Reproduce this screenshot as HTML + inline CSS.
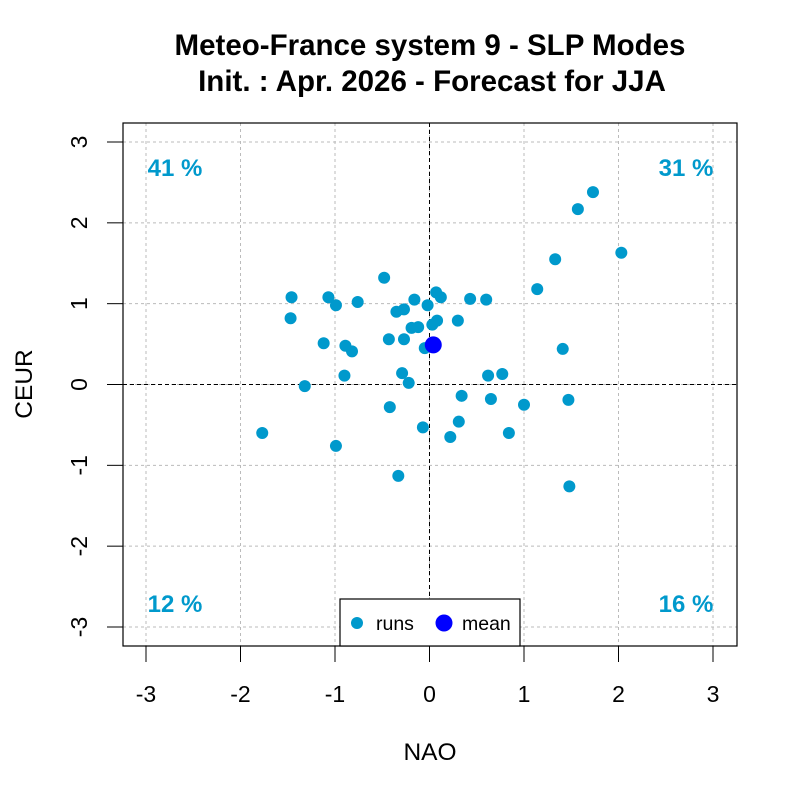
<!DOCTYPE html>
<html><head><meta charset="utf-8"><style>
html,body{margin:0;padding:0;background:#fff;}
svg{display:block;font-family:"Liberation Sans",sans-serif;}
</style></head><body>
<svg id="c" width="800" height="800" xmlns="http://www.w3.org/2000/svg">
<text x="430" y="55" text-anchor="middle" font-size="29.5" font-weight="bold">Meteo-France system 9 - SLP Modes</text>
<text x="432" y="91" text-anchor="middle" font-size="29.5" font-weight="bold">Init. : Apr. 2026 - Forecast for JJA</text>
<text x="430" y="760" text-anchor="middle" font-size="24.5">NAO</text>
<text transform="translate(32,384) rotate(-90)" text-anchor="middle" font-size="24.5">CEUR</text>
<g id="g"></g>
</svg>
<script>
const runsX=[1.73,1.57,2.03,1.33,1.14,1.41,-0.48,-1.46,-1.07,-0.99,-0.76,-1.47,-1.12,-0.89,-0.82,-0.90,-1.32,-1.77,-0.99,-0.33,-0.42,-0.29,-0.22,-0.43,-0.27,-0.35,-0.27,-0.16,-0.02,0.07,0.12,-0.19,-0.12,0.03,0.08,-0.05,0.43,0.60,0.30,0.34,0.31,-0.07,0.22,0.65,0.62,0.77,0.84,1.00,1.47,1.48];
const runsY=[2.38,2.17,1.63,1.55,1.18,0.44,1.32,1.08,1.08,0.98,1.02,0.82,0.51,0.48,0.41,0.11,-0.02,-0.60,-0.76,-1.13,-0.28,0.14,0.02,0.56,0.56,0.90,0.93,1.05,0.98,1.14,1.08,0.70,0.71,0.74,0.79,0.45,1.06,1.05,0.79,-0.14,-0.46,-0.53,-0.65,-0.18,0.11,0.13,-0.60,-0.25,-0.19,-1.26];
const meanX=[0.04];
const meanY=[0.49];
const ticks=[-3,-2,-1,0,1,2,3];
const quadLabels=["41 %","31 %","12 %","16 %"];
const sx=v=>429.5+v*94.5;
const sy=v=>384.5-v*80.83;
const g=document.getElementById('g');
const NS="http://www.w3.org/2000/svg";
function mk(t,a){const e=document.createElementNS(NS,t);for(const k in a)e.setAttribute(k,a[k]);g.appendChild(e);return e;}
ticks.forEach(t=>{
 let l=mk('line',{x1:sx(t),x2:sx(t),y1:123,y2:646,stroke:'#bbb','stroke-dasharray':'3,3'});
 
 l=mk('line',{x1:123,x2:737,y1:sy(t),y2:sy(t),stroke:'#bbb','stroke-dasharray':'3,3'});
 
 l=mk('line',{x1:sx(t),x2:sx(t),y1:646,y2:662,stroke:'#000'});
 
 let tx=mk('text',{x:sx(t),y:702,'text-anchor':'middle','font-size':23});tx.textContent=t;
 
 l=mk('line',{x1:107,x2:123,y1:sy(t),y2:sy(t),stroke:'#000'});
 
 tx=mk('text',{transform:`translate(87,${sy(t)}) rotate(-90)`,'text-anchor':'middle','font-size':23});tx.textContent=t;
 
});
let z=mk('line',{x1:sx(0),x2:sx(0),y1:123,y2:646,stroke:'#000','stroke-dasharray':'4,3'});

z=mk('line',{x1:123,x2:737,y1:sy(0),y2:sy(0),stroke:'#000','stroke-dasharray':'4,3'});

const qpos=[[175,176],[686,176],[175,612],[686,612]];
quadLabels.forEach((q,i)=>{const t=mk('text',{x:qpos[i][0],y:qpos[i][1],'text-anchor':'middle','font-size':24,'font-weight':'bold',fill:'#0099cc'});t.textContent=q;
 });
runsX.forEach((x,i)=>{const c=mk('circle',{cx:sx(x),cy:sy(runsY[i]),r:6,fill:'#0099cc'});
 });
meanX.forEach((x,i)=>{const c=mk('circle',{cx:sx(x),cy:sy(meanY[i]),r:8.5,fill:'#0000ff'});
 });
let b=mk('rect',{x:123,y:123,width:614,height:523,fill:'none',stroke:'#000','stroke-width':1.2});

let lg=mk('rect',{x:340,y:599,width:180,height:47,fill:'#fff',stroke:'#000','stroke-width':1.2});

let c1=mk('circle',{cx:357,cy:623,r:6,fill:'#0099cc'});
let t1=mk('text',{x:376,y:630,'font-size':19.5});t1.textContent='runs';
let c2=mk('circle',{cx:444,cy:623,r:8.5,fill:'#0000ff'});
let t2=mk('text',{x:462,y:630,'font-size':19.5});t2.textContent='mean';
</script>
</body></html>
